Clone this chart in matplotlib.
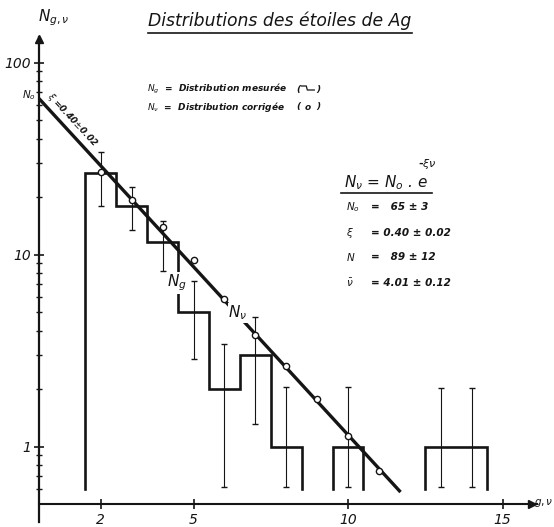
import numpy as np
import matplotlib
matplotlib.use("Agg")
import matplotlib.pyplot as plt
from matplotlib.lines import Line2D
from matplotlib.ticker import FixedLocator, NullFormatter

# measured distribution N_g (histogram, one bin per nu)
nu_bins = [2, 3, 4, 5, 6, 7, 8, 9, 10, 11, 12, 13, 14]
n_meas = [26.5, 18, 11.7, 5, 2, 3, 1, 0, 1, 0, 0, 1, 1]
hist_base = 0.6

# error bars on the measured bins
nu_err = [2, 3, 4, 5, 6, 7, 8, 10, 13, 14]
err_lo = [17.9, 13.4, 8.2, 2.86, 0.615, 1.31, 0.615, 0.615, 0.615, 0.615]
err_hi = [34.4, 22.6, 14.9, 7.3, 3.43, 4.75, 2.04, 2.04, 2.01, 2.01]

# corrected distribution N_v (circles)
nu_corr = [2, 3, 4, 5, 6, 7, 8, 9, 10, 11]
n_corr = [27.1, 19.3, 14.0, 9.4, 5.86, 3.8, 2.64, 1.77, 1.13, 0.75]

# fitted exponential, drawn as a straight line on the log axis
fit_nu = [0, 11.7]
fit_n = [65, 0.58]

x_ticks = [2, 5, 10, 15]
y_ticks = [1, 10, 100]
y_minor = [0.6, 0.7, 0.8, 0.9, 2, 3, 4, 5, 6, 7, 8, 9,
           20, 30, 40, 50, 60, 70, 80, 90]

W, H = 554, 527
INK = "#151515"


def fx(px):
    return px / W


def fy(py):
    return 1 - py / H


fig = plt.figure(figsize=(W / 100, H / 100), dpi=100)
ax = fig.add_axes([fx(39), fy(522), (536.5 - 39) / W, (522 - 37) / H])
ax.set_yscale("log")
ax.set_xlim(0, 16.1)
ax.set_ylim(0.405, 136)

for s in ["top", "right"]:
    ax.spines[s].set_visible(False)
ax.spines["bottom"].set_position(("data", 0.503))
ax.spines["bottom"].set_linewidth(1.5)
ax.spines["left"].set_linewidth(1.6)
ax.spines["bottom"].set_color(INK)
ax.spines["left"].set_color(INK)

ax.set_xticks(x_ticks)
ax.set_xticklabels([str(t) for t in x_ticks], fontstyle="italic", fontsize=10)
ax.yaxis.set_major_locator(FixedLocator(y_ticks))
ax.set_yticklabels([str(t) for t in y_ticks], fontstyle="italic", fontsize=10)
ax.yaxis.set_minor_locator(FixedLocator(y_minor))
ax.yaxis.set_minor_formatter(NullFormatter())
ax.tick_params(axis="both", which="major", direction="inout", length=7,
               width=1.2, color=INK, labelcolor=INK, pad=2)
ax.tick_params(axis="y", which="minor", direction="inout", length=5,
               width=1.0, color=INK)
ax.tick_params(axis="x", pad=3)

# axis arrows
ax.plot(15.95, 0.503, marker=">", ms=6, color=INK, clip_on=False)
ax.plot(0, 132, marker="^", ms=6, color=INK, clip_on=False)

# histogram outline, one closed run per group of non-empty bins
runs = []
cur = []
for nu, n in zip(nu_bins, n_meas):
    if n > 0:
        cur.append((nu, n))
    elif cur:
        runs.append(cur)
        cur = []
if cur:
    runs.append(cur)
for run in runs:
    hx = [run[0][0] - 0.5]
    hy = [hist_base]
    for nu, n in run:
        hx += [nu - 0.5, nu + 0.5]
        hy += [n, n]
    hx.append(run[-1][0] + 0.5)
    hy.append(hist_base)
    ax.plot(hx, hy, color=INK, lw=1.9, solid_joinstyle="miter", zorder=3)

# error bars
ax.vlines(nu_err, err_lo, err_hi, color=INK, lw=0.8, zorder=2)
ax.plot(nu_err, err_lo, "_", ms=5, mew=1.0, color=INK, zorder=2)
ax.plot(nu_err, err_hi, "_", ms=5, mew=1.0, color=INK, zorder=2)

# fit line and corrected points
ax.plot(fit_nu, fit_n, color=INK, lw=2.4, solid_capstyle="butt", zorder=4)
ax.plot(nu_corr, n_corr, "o", ms=4.5, mfc="white", mec=INK, mew=1.0, zorder=5)

# labels on the curves
fig.text(fx(177), fy(283), r"$N_g$", fontsize=11, color=INK, ha="center",
         va="center", zorder=6,
         bbox=dict(facecolor="white", edgecolor="none", pad=0.5))
fig.text(fx(238), fy(313), r"$N_\nu$", fontsize=11, color=INK, ha="center",
         va="center", zorder=6,
         bbox=dict(facecolor="white", edgecolor="none", pad=0.5))
fig.text(fx(72), fy(120), r"$\xi$ =0.40$\pm$0.02", fontsize=6.5, fontweight="bold",
         fontstyle="italic", color=INK, rotation=-47, ha="center", va="center",
         rotation_mode="anchor")
fig.text(fx(36), fy(95), r"$N_o$", fontsize=7.5, fontweight="bold", color=INK,
         ha="right", va="center")

# axis names
fig.text(fx(553), fy(503), r"$g,\nu$", fontsize=7.5, color=INK, ha="right",
         va="center")
fig.text(fx(38), fy(18), r"$N_{g,\nu}$", fontsize=11, color=INK, ha="left",
         va="center")

# title
fig.text(fx(280), fy(21), "Distributions des étoiles de Ag", fontsize=12.4,
         fontstyle="italic", color=INK, ha="center", va="center")
fig.add_artist(Line2D([fx(148), fx(412)], [fy(33), fy(33)], lw=1.2, color=INK))

# legend lines
leg_kw = dict(fontsize=6.5, fontweight="bold", fontstyle="italic", color=INK,
              va="center")
t1 = fig.text(fx(147), fy(89), r"$N_g$  =  Distribution mesurée", ha="left", **leg_kw)
t2 = fig.text(fx(147), fy(107), r"$N_\nu$  =  Distribution corrigée", ha="left", **leg_kw)
fig.canvas.draw()
rend = fig.canvas.get_renderer()
x0 = max(t1.get_window_extent(rend).x1, t2.get_window_extent(rend).x1) + 9
fig.text(x0 / W, fy(89), "(", ha="left", **leg_kw)
fig.text((x0 + 20) / W, fy(89), ")", ha="left", **leg_kw)
fig.add_artist(Line2D([(x0 + 5) / W, (x0 + 10) / W, (x0 + 11) / W, (x0 + 18) / W],
                      [fy(86), fy(86), fy(90), fy(90)], lw=0.9, color=INK))
fig.text(x0 / W, fy(107), "(", ha="left", **leg_kw)
fig.text((x0 + 8) / W, fy(107), "o", ha="left", **leg_kw)
fig.text((x0 + 20) / W, fy(107), ")", ha="left", **leg_kw)

# fitted law and parameters
fig.text(fx(344), fy(183), r"$N_\nu$ = $N_o$ . e", fontsize=11, fontstyle="italic",
         color=INK, ha="left", va="center")
fig.text(fx(418), fy(164), r"-$\xi\nu$", fontsize=8, fontweight="bold",
         color=INK, ha="left", va="center")
fig.add_artist(Line2D([fx(341), fx(432)], [fy(193), fy(193)], lw=1.2, color=INK))

par_kw = dict(fontsize=7.5, fontweight="bold", fontstyle="italic", color=INK,
              va="center")
par_names = [r"$N_o$", r"$\xi$", r"$N$", r"$\bar{\nu}$"]
par_vals = ["=   65 ± 3", "= 0.40 ± 0.02", "=   89 ± 12", "= 4.01 ± 0.12"]
par_y = [207, 233, 257, 283]
for name, val, py in zip(par_names, par_vals, par_y):
    fig.text(fx(346), fy(py), name, ha="left", **par_kw)
    fig.text(fx(371), fy(py), val, ha="left", **par_kw)

fig.savefig("out.png", dpi=100, facecolor="white")
